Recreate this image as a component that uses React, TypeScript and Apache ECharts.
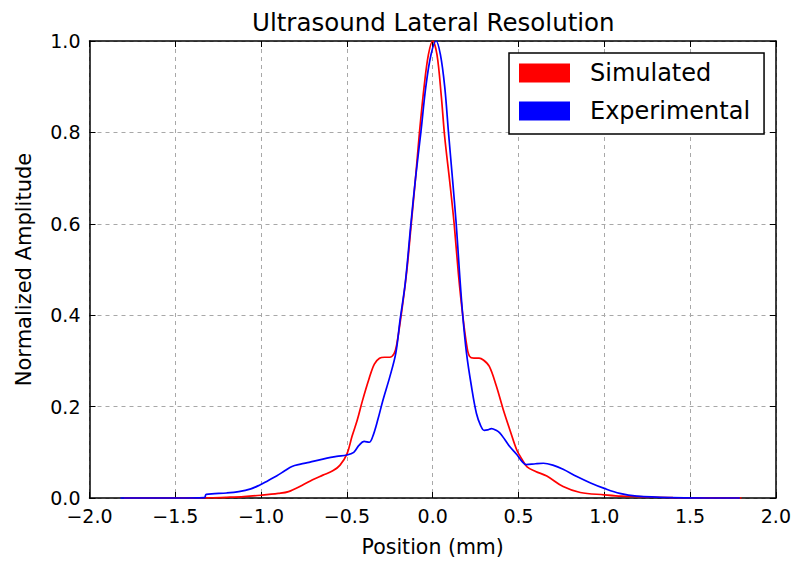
import React, { useEffect, useRef } from "react";
import * as echarts from "echarts";

const titleText = "Ultrasound Lateral Resolution";
const xAxisName = "Position (mm)";
const yAxisName = "Normalized Amplitude";
const seriesNames = ["Simulated", "Experimental"];
const seriesColors = ["#ff0000", "#0000ff"];

const simX = [-1.8, -1.5, -1.3, -1.2, -1.1, -1.0, -0.9, -0.84, -0.76, -0.7, -0.64, -0.58, -0.54, -0.5, -0.47, -0.44, -0.41, -0.37, -0.34, -0.31, -0.28, -0.25, -0.225, -0.21, -0.18, -0.15, -0.125, -0.1, -0.077, -0.05, -0.025, 0, 0.025, 0.05, 0.07, 0.1, 0.125, 0.15, 0.175, 0.2, 0.215, 0.24, 0.27, 0.295, 0.33, 0.37, 0.41, 0.45, 0.49, 0.52, 0.55, 0.6, 0.665, 0.76, 0.86, 1.0, 1.1, 1.2, 1.4, 1.8];
const simY = [0, 0, 0.0005, 0.0015, 0.003, 0.006, 0.01, 0.014, 0.028, 0.04, 0.05, 0.06, 0.072, 0.096, 0.135, 0.17, 0.212, 0.262, 0.293, 0.306, 0.308, 0.308, 0.316, 0.335, 0.41, 0.5, 0.6, 0.7, 0.8, 0.9, 0.97, 1.0, 0.97, 0.88, 0.79, 0.69, 0.6, 0.49, 0.4, 0.33, 0.31, 0.306, 0.306, 0.302, 0.288, 0.246, 0.195, 0.149, 0.105, 0.085, 0.068, 0.058, 0.048, 0.025, 0.012, 0.007, 0.004, 0.003, 0.001, 0];

const expX = [-1.82, -1.5, -1.33, -1.32, -1.2, -1.13, -1.06, -1.01, -0.96, -0.91, -0.86, -0.82, -0.77, -0.72, -0.64, -0.56, -0.5, -0.46, -0.43, -0.4, -0.37, -0.35, -0.32, -0.29, -0.25, -0.215, -0.19, -0.16, -0.127, -0.1, -0.069, -0.04, -0.01, 0.02, 0.045, 0.07, 0.092, 0.115, 0.137, 0.155, 0.175, 0.197, 0.226, 0.255, 0.28, 0.3, 0.32, 0.343, 0.37, 0.392, 0.42, 0.45, 0.49, 0.52, 0.545, 0.6, 0.645, 0.7, 0.76, 0.84, 0.92, 1.0, 1.09, 1.19, 1.39, 1.79];
const expY = [0, 0, 0.001, 0.008, 0.011, 0.014, 0.02, 0.028, 0.038, 0.048, 0.06, 0.069, 0.074, 0.078, 0.085, 0.091, 0.094, 0.1, 0.115, 0.124, 0.122, 0.134, 0.171, 0.214, 0.265, 0.317, 0.39, 0.47, 0.6, 0.7, 0.8, 0.9, 0.97, 1.0, 0.97, 0.9, 0.8, 0.7, 0.6, 0.5, 0.4, 0.317, 0.244, 0.185, 0.158, 0.148, 0.149, 0.152, 0.148, 0.142, 0.128, 0.112, 0.095, 0.08, 0.073, 0.075, 0.076, 0.072, 0.063, 0.047, 0.033, 0.021, 0.01, 0.004, 0.001, 0];

const FONT = "DejaVu Sans";

function fmt(v: number): string {
  const s = Math.abs(v).toFixed(1);
  return v < 0 ? "\u2212" + s : s;
}

export default function App() {
  const ref = useRef<HTMLDivElement>(null);
  useEffect(() => {
    document.body.style.margin = "0";
    if (!ref.current) return;
    const chart = echarts.init(ref.current, null, { renderer: "svg" });
    const frameLine = { show: true, onZero: false, lineStyle: { color: "#000", width: 1.5 } };
    const tick = { show: true, inside: true, length: 6, lineStyle: { color: "#000", width: 1 } };
    const grid = { show: true, lineStyle: { color: "#a8a8a8", width: 1, type: [4, 4] } };
    chart.setOption({
      animation: false,
      backgroundColor: "#fff",
      title: {
        text: titleText,
        left: 247,
        top: 5,
        textStyle: { fontFamily: FONT, fontSize: 24.5, fontWeight: "normal", color: "#000" },
      },
      legend: {
        data: seriesNames,
        orient: "vertical",
        left: 509,
        top: 53,
        icon: "rect",
        itemWidth: 51,
        itemHeight: 19,
        itemGap: 14,
        padding: [8, 14, 11, 10],
        borderColor: "#000",
        borderWidth: 1.5,
        backgroundColor: "#fff",
        textStyle: { fontFamily: FONT, fontSize: 24, color: "#000", padding: [0, 0, 0, 15] },
      },
      grid: { left: 89.5, right: 18, top: 41, bottom: 66 },
      xAxis: [
        {
          type: "value",
          min: -2,
          max: 2,
          interval: 0.5,
          position: "bottom",
          axisLine: frameLine,
          axisTick: tick,
          splitLine: grid,
          axisLabel: { formatter: fmt, fontFamily: FONT, fontSize: 19, color: "#000", margin: 8 },
          name: xAxisName,
          nameLocation: "middle",
          nameGap: 38,
          nameTextStyle: { fontFamily: FONT, fontSize: 20.5, color: "#000" },
        },
        {
          type: "value",
          min: -2,
          max: 2,
          interval: 0.5,
          position: "top",
          axisLine: frameLine,
          axisTick: tick,
          splitLine: { show: false },
          axisLabel: { show: false },
        },
      ],
      yAxis: [
        {
          type: "value",
          min: 0,
          max: 1,
          interval: 0.2,
          position: "left",
          axisLine: frameLine,
          axisTick: tick,
          splitLine: grid,
          axisLabel: { formatter: fmt, fontFamily: FONT, fontSize: 19, color: "#000", margin: 9 },
          name: yAxisName,
          nameLocation: "middle",
          nameGap: 55,
          nameTextStyle: { fontFamily: FONT, fontSize: 21, color: "#000" },
        },
        {
          type: "value",
          min: 0,
          max: 1,
          interval: 0.2,
          position: "right",
          axisLine: frameLine,
          axisTick: tick,
          splitLine: { show: false },
          axisLabel: { show: false },
        },
      ],
      series: [
        {
          name: seriesNames[0],
          type: "line",
          xAxisIndex: 0,
          yAxisIndex: 0,
          data: simX.map((x, i) => [x, simY[i]]),
          showSymbol: false,
          smooth: 0.35,
          clip: false,
          lineStyle: { color: seriesColors[0], width: 1.7 },
          itemStyle: { color: seriesColors[0] },
          z: 5,
        },
        {
          name: seriesNames[1],
          type: "line",
          xAxisIndex: 0,
          yAxisIndex: 0,
          data: expX.map((x, i) => [x, expY[i]]),
          showSymbol: false,
          smooth: 0.35,
          clip: false,
          lineStyle: { color: seriesColors[1], width: 1.7 },
          itemStyle: { color: seriesColors[1] },
          z: 6,
        },
      ],
    });
    return () => chart.dispose();
  }, []);
  return <div ref={ref} style={{ width: 794, height: 564 }} />;
}
